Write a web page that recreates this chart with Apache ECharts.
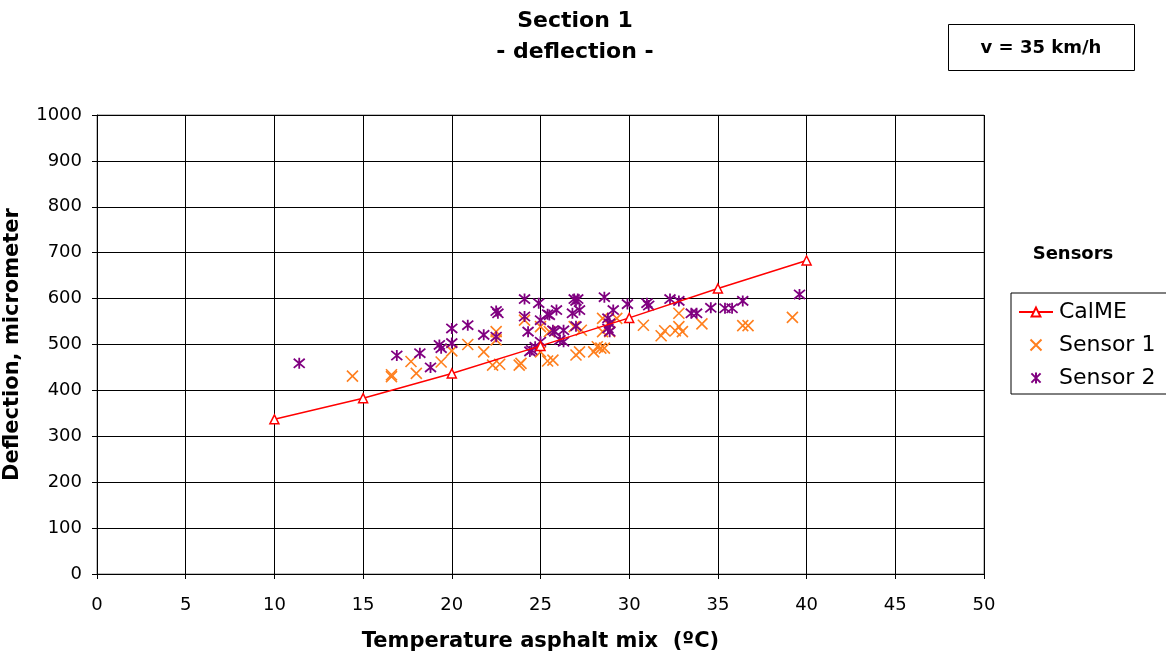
<!DOCTYPE html>
<html><head><meta charset="utf-8">
<script src="https://cdn.jsdelivr.net/npm/echarts@6/dist/echarts.min.js"></script>
<style>html,body{margin:0;padding:0;background:#fff}#c{width:1166px;height:652px}</style>
</head><body><div id="c"></div>
<script>
const xTicks = [0,5,10,15,20,25,30,35,40,45,50];
const calmeX = [10,15,20,25,30,35,40];
const calmeY = [337,383,437,497,558,622,683];
const sensor1 = [[14.4,431],[16.6,434],[16.6,430],[17.7,463],[18.0,437],[19.4,462],[20.0,486],[20.9,500],[21.8,484],[22.3,455],[22.5,528],[22.5,510],[22.7,457],[23.8,455],[23.9,459],[24.1,553],[25.0,539],[25.0,484],[25.4,464],[25.5,528],[25.7,466],[26.9,539],[27.0,477],[27.2,484],[27.3,531],[28.0,484],[28.2,495],[28.4,492],[28.5,557],[28.5,528],[28.6,492],[28.9,528],[29.3,557],[30.8,542],[31.8,519],[32.0,530],[32.6,530],[32.8,539],[32.8,568],[33.0,528],[34.1,545],[36.4,541],[36.7,541],[39.2,559]];
const sensor2 = [[11.4,459],[16.9,476],[18.2,481],[18.8,450],[19.3,499],[19.4,492],[20.0,535],[20.0,503],[20.9,542],[21.8,521],[22.5,573],[22.6,568],[22.5,517],[24.1,599],[24.1,561],[24.3,528],[24.4,485],[24.5,488],[24.7,495],[24.9,590],[25.0,553],[25.0,506],[25.4,566],[25.5,564],[25.7,531],[25.8,528],[25.9,575],[26.1,510],[26.3,531],[26.3,506],[26.8,568],[26.9,599],[27.0,595],[27.1,599],[27.2,575],[27.0,540],[28.6,603],[28.8,557],[28.8,535],[28.9,546],[28.9,528],[29.1,575],[29.9,588],[31.0,590],[31.1,585],[32.3,599],[32.8,595],[33.5,568],[33.8,568],[34.6,580],[35.4,579],[35.8,579],[36.4,595],[39.6,609]];

const FONT = '"DejaVu Sans", "Liberation Sans", sans-serif';
const chart = echarts.init(document.getElementById('c'));
chart.setOption({
  animation: false,
  backgroundColor: '#fff',
  textStyle: {fontFamily: FONT, color: '#000'},
  title: [{
    text: 'Section 1\n- deflection -',
    left: 570, top: 1, textAlign: 'center',
    textStyle: {fontFamily: FONT, fontSize: 22, fontWeight: 'bold', color: '#000', lineHeight: 31}
  },{
    text: 'Sensors', left: 1068, top: 240, textAlign: 'center',
    textStyle: {fontFamily: FONT, fontSize: 18, fontWeight: 'bold', color: '#000'}
  }],
  graphic: [{
    type: 'rect', shape: {x: 948.5, y: 24.5, width: 186, height: 46},
    style: {fill: '#fff', stroke: '#000', lineWidth: 1}
  },{
    type: 'text', x: 1041, y: 48,
    style: {text: 'v = 35 km/h', font: 'bold 18px ' + FONT, fill: '#000', textAlign: 'center', textVerticalAlign: 'middle'}
  }],
  grid: {left: 97, top: 115, width: 887, height: 459, show: true, borderColor: '#808080', borderWidth: 1, outerBoundsMode: 'none', containLabel: false},
  legend: {
    left: 1011, top: 293, orient: 'vertical',
    borderColor: '#000', borderWidth: 1, padding: [8, 60, 5, 7],
    itemGap: 11, itemWidth: 34, itemHeight: 11,
    textStyle: {fontFamily: FONT, fontSize: 22, color: '#000', padding: [0, 0, 0, 1]},
    data: [{name: 'CalME'}, {name: 'Sensor 1'}, {name: 'Sensor 2'}]
  },
  xAxis: {
    type: 'value', min: 0, max: 50, interval: 5,
    name: 'Temperature asphalt mix  (ºC)', nameLocation: 'middle', nameGap: 57,
    nameTextStyle: {fontFamily: FONT, fontSize: 21, fontWeight: 'bold', color: '#000'},
    axisLine: {lineStyle: {color: '#000', width: 1}},
    axisTick: {show: true, length: 5, lineStyle: {color: '#000'}},
    axisLabel: {fontFamily: FONT, fontSize: 18, color: '#000', margin: 22},
    splitLine: {show: true, lineStyle: {color: '#000', width: 1}}
  },
  yAxis: {
    type: 'value', min: 0, max: 1000, interval: 100,
    name: 'Deflection, micrometer', nameLocation: 'middle', nameGap: 74,
    nameTextStyle: {fontFamily: FONT, fontSize: 21, fontWeight: 'bold', color: '#000'},
    axisLine: {show: true, lineStyle: {color: '#000', width: 1}},
    axisTick: {show: true, length: 5, lineStyle: {color: '#000'}},
    axisLabel: {fontFamily: FONT, fontSize: 18, color: '#000', margin: 15, formatter: v => String(v)},
    splitLine: {show: true, lineStyle: {color: '#000', width: 1}}
  },
  series: [{
    name: 'CalME', type: 'line',
    data: calmeX.map((x, i) => [x, calmeY[i]]),
    symbol: 'triangle', symbolSize: 9,
    lineStyle: {color: '#ff0000', width: 1.5},
    itemStyle: {color: '#fff', borderColor: '#ff0000', borderWidth: 1.5},
    z: 3
  },{
    name: 'Sensor 1', type: 'scatter', data: sensor1,
    symbol: 'path://M0,0L10,10M10,0L0,10', symbolSize: 11,
    itemStyle: {color: 'rgba(0,0,0,0)', borderColor: '#ff7f1e', borderWidth: 1.6, opacity: 1}
  },{
    name: 'Sensor 2', type: 'scatter', data: sensor2,
    symbol: 'path://M0,0L10,10M10,0L0,10M5,-1L5,11', symbolSize: 11,
    itemStyle: {color: 'rgba(0,0,0,0)', borderColor: '#800080', borderWidth: 1.8, opacity: 1}
  }]
});
</script></body></html>
